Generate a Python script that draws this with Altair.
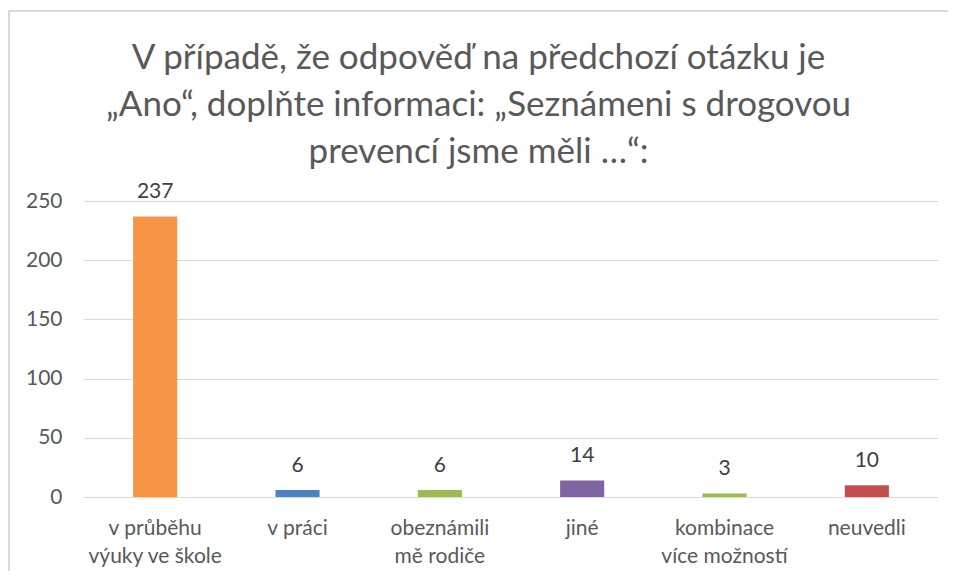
import altair as alt
import pandas as pd

categories = ["v průběhu\nvýuky ve škole", "v práci", "obeznámili\nmě rodiče", "jiné", "kombinace\nvíce možností", "neuvedli"]
values = [237, 6, 6, 14, 3, 10]
colors = ["#F79646", "#4F81BD", "#9BBB59", "#8064A2", "#9BBB59", "#C0504D"]
y_ticks = [0, 50, 100, 150, 200, 250]

title_lines = [
    "V případě, že odpověď na předchozí otázku je",
    "„Ano“, doplňte informaci: „Seznámeni s drogovou",
    "prevencí jsme měli …“:",
]

df = pd.DataFrame({"cat": categories, "val": values, "color": colors})

FONT = "Lato"
GREY = "#595959"
y_scale = alt.Scale(domain=[0, 250], nice=False, zero=True)

x_enc = alt.X(
    "cat:N",
    sort=None,
    title=None,
    scale=alt.Scale(paddingInner=0.69, paddingOuter=0.345),
    axis=alt.Axis(
        labelExpr="split(datum.label, '\\n')",
        labelAngle=0,
        labelFont=FONT,
        labelFontSize=21,
        labelColor=GREY,
        labelLineHeight=28,
        labelPadding=20,
        labelBaseline="top",
        ticks=False,
        domainColor="#D9D9D9",
        domainWidth=1,
        labelLimit=300,
    ),
)

bars = alt.Chart(df).mark_bar().encode(
    x=x_enc,
    y=alt.Y(
        "val:Q",
        title=None,
        scale=y_scale,
        axis=alt.Axis(
            values=y_ticks,
            labelFont=FONT,
            labelFontSize=21,
            labelColor=GREY,
            labelPadding=22,
            ticks=False,
            domain=False,
            gridColor="#D9D9D9",
            gridWidth=1,
        ),
    ),
    color=alt.Color("color:N", scale=None, legend=None),
)

labels = alt.Chart(df).mark_text(
    font=FONT, fontSize=21, color="#404040", baseline="alphabetic", dy=-18
).encode(
    x=alt.X("cat:N", sort=None),
    y=alt.Y("val:Q", scale=y_scale),
    text=alt.Text("val:Q"),
)

frame_top = alt.Chart(df).mark_rule(color="#D9D9D9", strokeWidth=1).encode(
    x=alt.value(-75), x2=alt.value(864), y=alt.value(-190)
)
frame_left = alt.Chart(df).mark_rule(color="#D9D9D9", strokeWidth=1).encode(
    x=alt.value(-75), y=alt.value(-190), y2=alt.value(370)
)

chart = (
    alt.layer(frame_top, frame_left, bars, labels)
    .properties(
        width=854,
        height=296,
        padding={"left": 0, "top": 2, "right": 0, "bottom": 0},
        title=alt.TitleParams(
            text=title_lines,
            font=FONT,
            fontSize=35,
            fontWeight="normal",
            color=GREY,
            lineHeight=47,
            anchor="middle",
            frame="bounds",
            offset=-159,
        ),
    )
    .configure_view(stroke=None)
)

chart.save("out.html", embed_options={"renderer": "svg", "actions": False})
